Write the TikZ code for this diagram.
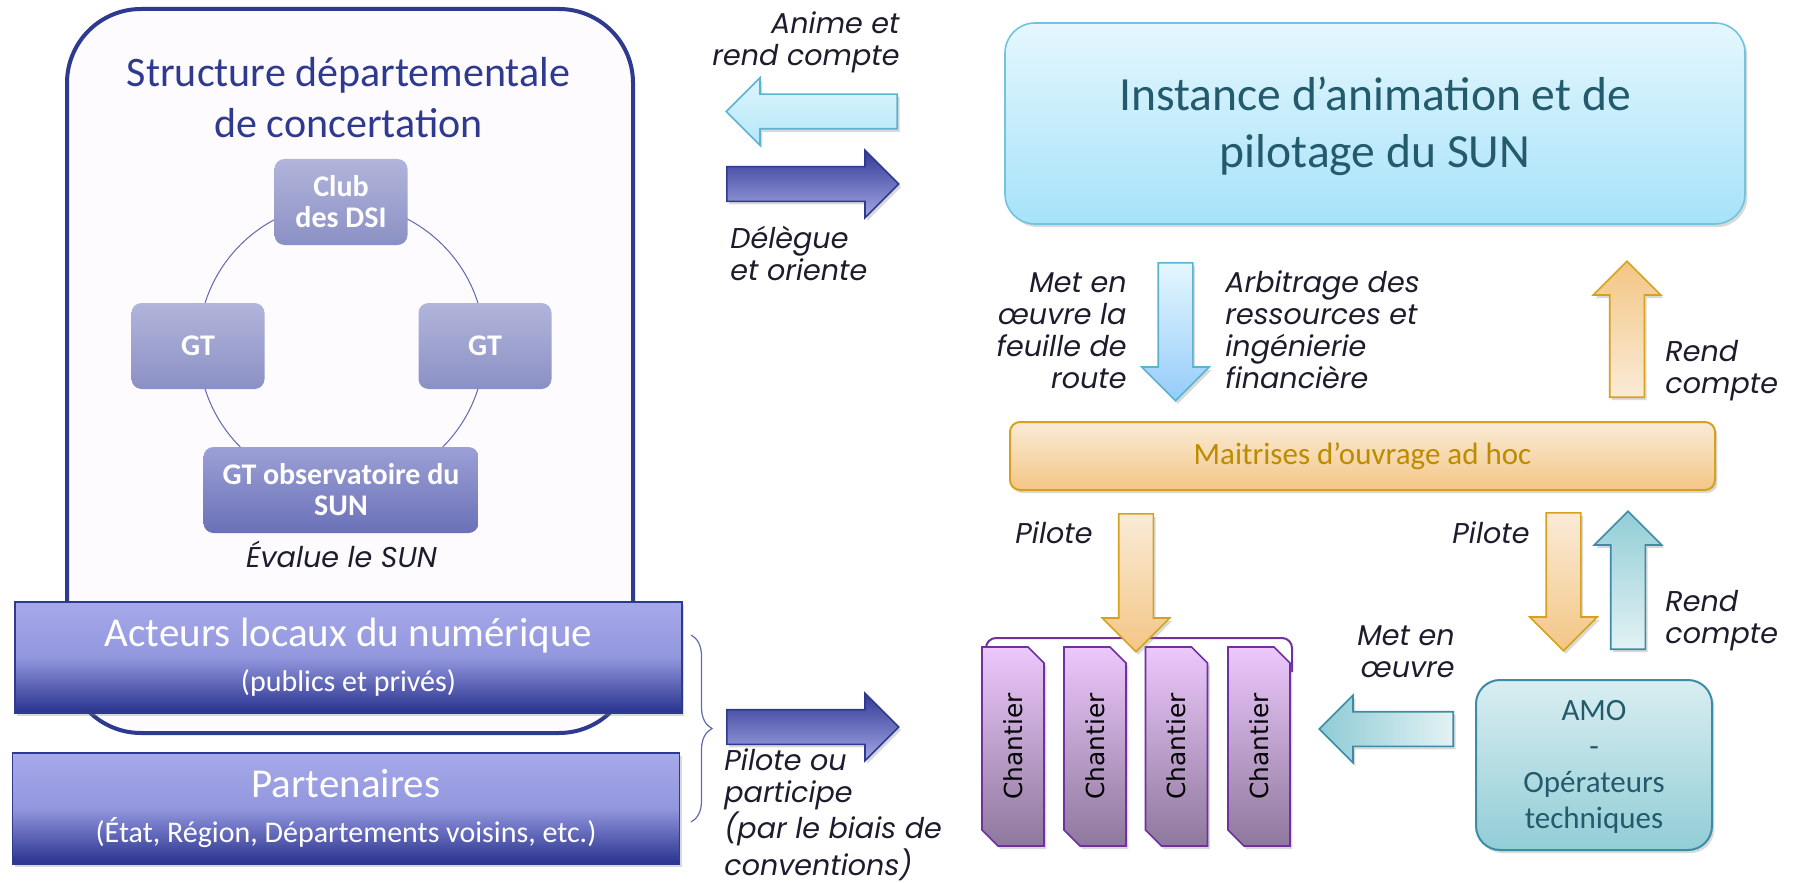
\documentclass[tikz,border=0pt]{standalone}
\usepackage{fontspec}
\setmainfont{Carlito}
\newfontfamily\lblfont{Poppins}
\newfontfamily\chfont{DejaVu Sans}
\usetikzlibrary{positioning,shapes.arrows,shapes.misc,shadows,decorations.pathreplacing}
\definecolor{navy}{HTML}{2E3A8F}
\definecolor{framefill}{HTML}{FDFBFE}
\definecolor{ringc}{HTML}{6069B0}
\definecolor{clubtop}{HTML}{B1B5DB}
\definecolor{clubbot}{HTML}{8B90C4}
\definecolor{obstop}{HTML}{9CA0D6}
\definecolor{obsbot}{HTML}{6A71B7}
\definecolor{acttop}{HTML}{A6A9E9}
\definecolor{actmid}{HTML}{9296DD}
\definecolor{actbot}{HTML}{28328E}
\definecolor{dktop}{HTML}{323B96}
\definecolor{dkbot}{HTML}{A3A7E5}
\definecolor{lttop}{HTML}{DDF5FD}
\definecolor{ltbot}{HTML}{B5E7F9}
\definecolor{ltline}{HTML}{5BB3D0}
\definecolor{insttop}{HTML}{E5F7FE}
\definecolor{instbot}{HTML}{A6E2F9}
\definecolor{instline}{HTML}{72C4DE}
\definecolor{insttext}{HTML}{245B6C}
\definecolor{ortop}{HTML}{FAEBD7}
\definecolor{orbot}{HTML}{F3C685}
\definecolor{orline}{HTML}{D6A21D}
\definecolor{ortext}{HTML}{BC8C00}
\definecolor{chtop}{HTML}{ECC8FC}
\definecolor{chbot}{HTML}{8E789C}
\definecolor{chline}{HTML}{7030A0}
\definecolor{tltop}{HTML}{D9EEF1}
\definecolor{tlbot}{HTML}{92CDD6}
\definecolor{tlline}{HTML}{3B8CA6}
\definecolor{tldark}{HTML}{8FCBD5}
\definecolor{tllight}{HTML}{E3F2F4}
\definecolor{lblc}{HTML}{1C1C2C}

\begin{document}
\begin{tikzpicture}[x=0.5pt,y=-0.5pt,
  shad/.style={drop shadow={shadow xshift=1.2pt,shadow yshift=-1.5pt,opacity=.3}},
  frame/.style={rounded corners=37pt,draw=navy,line width=2pt,fill=framefill,minimum width=283pt,minimum height=362pt},
  ttl/.style={text=navy,align=center,inner sep=0pt,font=\fontsize{21}{25.5}\selectfont},
  ring/.style={draw=ringc,line width=0.5pt},
  gbox/.style={rounded corners=5pt,top color=clubtop,bottom color=clubbot,text=white,align=center,inner sep=0pt,
    minimum width=66.5pt,minimum height=43pt,font=\bfseries\fontsize{15}{15.5}\selectfont},
  obox/.style={gbox,top color=obstop,bottom color=obsbot,minimum width=137.5pt},
  wide/.style={shad,draw=navy,line width=0.8pt,top color=acttop,bottom color=actbot,middle color=actmid,text=white,
    align=center,inner sep=0pt,minimum width=333.5pt,minimum height=55.5pt,font=\fontsize{20.5}{22.5}\selectfont},
  brc/.style={draw=ringc,line width=0.6pt,decorate,decoration={brace,amplitude=10.5pt}},
  arr/.style={shad,single arrow,single arrow tip angle=90,single arrow head extend=8.25pt,minimum width=33pt,
    inner sep=8.25pt,line width=0.8pt,anchor=tail,minimum height=#1},
  dkarr/.style={arr=#1,draw=navy,top color=dktop,bottom color=dkbot},
  ltarr/.style={arr=#1,draw=ltline,top color=lttop,bottom color=ltbot,shape border rotate=180},
  blarr/.style={arr=#1,draw=ltline,top color=insttop,bottom color=instbot!90!blue,shape border rotate=270},
  ordn/.style={arr=#1,draw=orline,top color=ortop,bottom color=orbot,shape border rotate=270},
  orup/.style={arr=#1,draw=orline,top color=orbot,bottom color=ortop,shape border rotate=90},
  tlup/.style={arr=#1,draw=tlline,top color=tlbot,bottom color=tllight,shape border rotate=90},
  tllt/.style={arr=#1,draw=tlline,left color=tldark,right color=tllight,shape border rotate=180},
  inst/.style={shad,rounded corners=15pt,draw=instline,line width=0.8pt,top color=insttop,bottom color=instbot,
    minimum width=370pt,minimum height=100.5pt},
  insttxt/.style={text=insttext,align=center,inner sep=0pt,font=\fontsize{23.8}{28.5}\selectfont},
  moa/.style={shad,rounded corners=5pt,draw=orline,line width=1pt,top color=ortop,bottom color=orbot,text=ortext,
    minimum width=352.5pt,minimum height=34pt,font=\fontsize{15.5}{18}\selectfont},
  grp/.style={draw=chline,line width=1pt,rounded corners=5pt},
  chant/.style={shad,chamfered rectangle,chamfered rectangle corners={south east,north west},
    chamfered rectangle xsep=4pt,chamfered rectangle ysep=4pt,rotate=90,minimum width=99.5pt,minimum height=31pt,
    inner sep=0pt,draw=chline,line width=0.8pt,top color=chtop,bottom color=chbot,font=\chfont\fontsize{12.4}{14}\selectfont},
  amo/.style={shad,rounded corners=12pt,draw=tlline,line width=1pt,top color=tltop,bottom color=tlbot,
    minimum width=118pt,minimum height=85pt},
  amotxt/.style={text=insttext,align=center,inner sep=0pt,font=\fontsize{15.5}{17.9}\selectfont},
  lbl/.style={text=lblc,inner sep=0pt,font=\lblfont\itshape\fontsize{14.3}{16}\selectfont}]
\useasboundingbox (0,0) rectangle (1794,883);

\node[frame] (s) at (350,371) {};
\node[ttl,anchor=base] (t) at (348.5,138) {Structure départementale\\de concertation};
\draw[ring] (341.5,346) circle[radius=71.5pt];
\node[gbox] (c) at (341,202) {Club\\des DSI};
\node[gbox] (g1) at (198,346) {GT};
\node[gbox] (g2) at (485,346) {GT};
\node[obox] (o) at (341,490) {GT observatoire du\\SUN};
\node[lbl,anchor=base] (ev) at (341.5,567) {Évalue le SUN};

\node[wide] (al) at (348.5,657.5) {Acteurs locaux du numérique\\{\fontsize{15}{18}\selectfont (publics et privés)}};
\node[wide] (p) at (346,808.5) {Partenaires\\{\fontsize{15}{18}\selectfont (État, Région, Départements voisins, etc.)}};
\draw[brc] (691,635) -- (691,822);

\node[ltarr=85.5pt] (a1) at (898,111.5) {};
\node[dkarr=86pt] (a2) at (726,184) {};
\node[dkarr=86pt] (a3) at (726,727) {};
\node[lbl,align=right,anchor=base east] (l1) at (900,66) {Anime et\\rend compte};
\node[lbl,align=left,anchor=base west] (l2) at (730,280) {Délègue\\et oriente};
\node[lbl,align=left,anchor=base west] (l3) at (724,875) {Pilote ou\\participe\\(par le biais de\\conventions)};

\node[inst] (i) at (1375,123.5) {};
\node[insttxt,anchor=base] (it) at (1375,168) {Instance d’animation et de\\pilotage du SUN};
\node[blarr=69pt] (a4) at (1175.5,262) {};
\node[orup=68pt] (a5) at (1627,398) {};
\node[lbl,align=right,anchor=base east] (l4) at (1127,388) {Met en\\œuvre la\\feuille de\\route};
\node[lbl,align=left,anchor=base west] (l5) at (1225,388) {Arbitrage des\\ressources et\\ingénierie\\financière};
\node[lbl,align=left,anchor=base west] (l6) at (1665,393) {Rend\\compte};

\node[moa] (m) at (1362.5,456) {Maitrises d’ouvrage ad hoc};
\node[ordn=69pt] (a7) at (1563.5,512) {};
\node[tlup=69pt] (a8) at (1628,650) {};
\node[lbl,anchor=base west] (l7) at (1015,543) {Pilote};
\node[lbl,anchor=base west] (l8) at (1452,543) {Pilote};
\node[lbl,align=left,anchor=base west] (l9) at (1665,643) {Rend\\compte};

\draw[grp] (986,652) -- (986,638) -- (1292,638) -- (1292,672);
\node[chant] (ch1) at (1013,746.5) {Chantier};
\node[chant] (ch2) at (1095,746.5) {Chantier};
\node[chant] (ch3) at (1176.5,746.5) {Chantier};
\node[chant] (ch4) at (1259,746.5) {Chantier};
\node[ordn=69pt] (a6) at (1136,513) {};

\node[amo] (amo) at (1594,765) {};
\node[amotxt,anchor=base] (at) at (1594,828) {AMO\\-\\Opérateurs\\techniques};
\node[tllt=67pt] (a9) at (1454,729) {};
\node[lbl,align=right,anchor=base east] (l10) at (1455,677) {Met en\\œuvre};
\end{tikzpicture}
\end{document}
